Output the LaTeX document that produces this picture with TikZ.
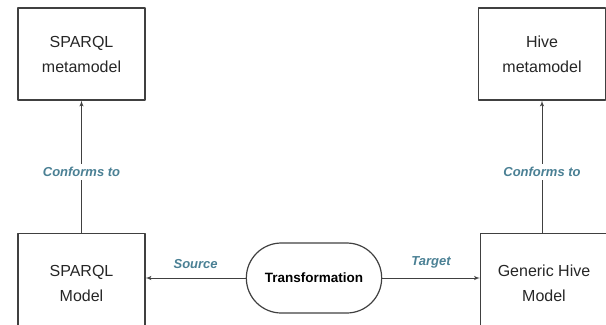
\documentclass[tikz,border=0pt]{standalone}
\usepackage{fontspec}
\setmainfont{Liberation Sans}
\usepackage{tikz}
\usetikzlibrary{arrows,shapes}

\definecolor{edgecol}{rgb}{0.25,0.25,0.25}
\definecolor{labelcol}{rgb}{0.29,0.50,0.58}

\begin{document}
\begin{tikzpicture}[>=latex',line join=bevel,x=1bp,y=-1bp,
  model/.style={draw=edgecol,line width=1.2bp,minimum width=127bp,
    align=center,font=\fontsize{16bp}{25bp}\selectfont,text=black!85},
  trans/.style={draw=edgecol,line width=1.2bp,rounded rectangle,
    minimum width=142bp,minimum height=70bp,
    font=\fontsize{13.5bp}{16bp}\selectfont\bfseries},
  rel/.style={->,draw=edgecol,line width=1bp},
  rellabel/.style={font=\fontsize{13bp}{15bp}\selectfont\bfseries\itshape,
    text=labelcol}]
\useasboundingbox (0,0) rectangle (606,324);

% Node: SPARQL metamodel
\node [model,minimum height=92bp] (sparqlmeta) at (81.5,54) {SPARQL\\metamodel};

% Node: Hive metamodel
\node [model,minimum height=92bp] (hivemeta) at (542,54) {Hive\\metamodel};

% Node: SPARQL Model
\node [model,minimum height=100bp,anchor=north] (sparqlmodel) at (81.5,233) {SPARQL\\Model};

% Node: Generic Hive Model
\node [model,minimum height=100bp,anchor=north] (hivemodel) at (544,233) {Generic Hive\\Model};

% Node: Transformation
\node [trans] (transf) at (314,278) {Transformation};

% Edge: SPARQL Model -> SPARQL metamodel
\draw [rel] (sparqlmodel.north) -- node [rellabel,fill=white,pos=0.46] {Conforms to} (sparqlmeta.south);

% Edge: Generic Hive Model -> Hive metamodel
\draw [rel] (hivemodel.north -| hivemeta.south) -- node [rellabel,fill=white,pos=0.46] {Conforms to} (hivemeta.south);

% Edge: Transformation -> SPARQL Model
\draw [rel] (transf.west) -- node [rellabel,above=6bp] {Source} (sparqlmodel.east |- transf.west);

% Edge: Transformation -> Generic Hive Model
\draw [rel] (transf.east) -- node [rellabel,above=6bp] {Target} (hivemodel.west |- transf.east);
%
\end{tikzpicture}
\end{document}
